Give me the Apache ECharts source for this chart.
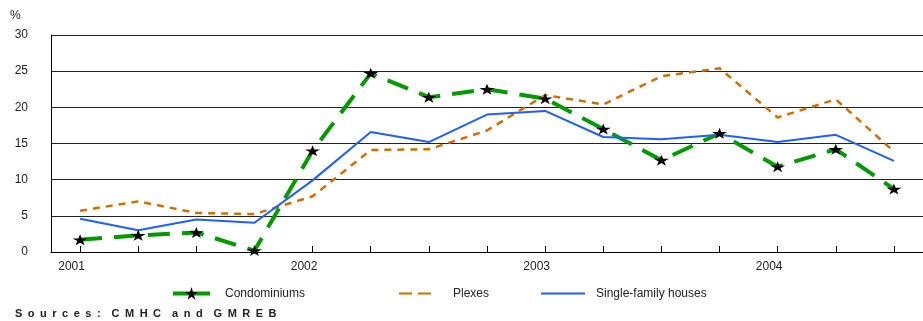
<!DOCTYPE html>
<html><head><meta charset="utf-8">
<script src="https://cdn.jsdelivr.net/npm/echarts@6/dist/echarts.min.js"></script>
<style>html,body{margin:0;padding:0;background:#fff}#c{width:923px;height:321px}</style>
</head><body><div id="c"></div>
<script>
const categories = ['2001','','','','2002','','','','2003','','','','2004','',''];
const condominiums = [1.7, 2.3, 2.7, 0.2, 14.0, 24.7, 21.4, 22.5, 21.2, 17.0, 12.7, 16.4, 11.8, 14.2, 8.7];
const plexes = [5.7, 7.0, 5.4, 5.25, 7.7, 14.1, 14.2, 16.8, 21.7, 20.4, 24.3, 25.4, 18.6, 21.1, 13.9];
const singleFamily = [4.6, 3.0, 4.5, 4.05, 9.9, 16.6, 15.2, 19.0, 19.5, 15.9, 15.6, 16.2, 15.2, 16.2, 12.6];
const yTicks = [0, 5, 10, 15, 20, 25, 30];
const sourceText = 'S\u2002o\u2002u\u2002r\u2002c\u2002e\u2002s\u2002:\u2002\u2002C\u2002M\u2002H\u2002C\u2002\u2002a\u2002n\u2002d\u2002\u2002G\u2002M\u2002R\u2002E\u2002B';

const star = 'path://M50,0 L61,35 L98,35 L68,57 L79,91 L50,70 L21,91 L32,57 L2,35 L39,35 Z';
const font = 'Liberation Sans, Arial, sans-serif';
const chart = echarts.init(document.getElementById('c'));
chart.setOption({
  animation: false,
  textStyle: {fontFamily: font},
  title: [
    {text: '%', left: 5, top: 5, textStyle: {fontSize: 12, fontWeight: 'normal', color: '#222', fontFamily: font}},
    {text: sourceText, left: 10, top: 303, textStyle: {fontSize: 11, fontWeight: 'bold', color: '#222', fontFamily: font, width: 280}}
  ],
  grid: {left: 51, right: -5.5, top: 35, bottom: 69},
  legend: [
    {data: [{name: 'Condominiums'}], left: 171, top: 287, padding: 0, itemWidth: 37, itemHeight: 16,
     lineStyle: {width: 4, type: 'solid', color: '#009900'},
     textStyle: {fontSize: 12, color: '#222', padding: [0, 0, 0, 10]}},
    {data: [{name: 'Plexes', itemStyle: {opacity: 0}}], left: 398, top: 287, padding: 0, itemWidth: 37, itemHeight: 16,
     lineStyle: {type: [13, 6]},
     textStyle: {fontSize: 12, color: '#222', padding: [0, 0, 0, 12]}},
    {data: [{name: 'Single-family houses', itemStyle: {opacity: 0}}], left: 540, top: 287, padding: 0, itemWidth: 44, itemHeight: 16,
     textStyle: {fontSize: 12, color: '#222', padding: [0, 0, 0, 6]}}
  ],
  xAxis: {
    type: 'category', data: categories, boundaryGap: true,
    axisLine: {lineStyle: {color: '#000', width: 1}},
    axisTick: {show: true, inside: true, length: 6, alignWithLabel: true, interval: 0, lineStyle: {color: '#000'}},
    axisLabel: {interval: 0, fontSize: 12, color: '#222', margin: 9, padding: [0, 17, 0, 0]},
    splitLine: {show: false}
  },
  yAxis: {
    type: 'value', min: yTicks[0], max: yTicks[yTicks.length - 1], interval: 5,
    axisLine: {show: true, lineStyle: {color: '#000'}},
    axisTick: {show: false},
    axisLabel: {fontSize: 12, color: '#222', margin: 23},
    splitLine: {lineStyle: {color: '#222', width: 1}}
  },
  series: [
    {name: 'Condominiums', type: 'line', data: condominiums, symbol: star, symbolSize: [15, 11],
     showAllSymbol: true,
     itemStyle: {color: '#000'},
     lineStyle: {color: '#009900', width: 4, type: [22, 12]}},
    {name: 'Plexes', type: 'line', data: plexes, symbol: 'none',
     itemStyle: {color: '#cc7000'},
     lineStyle: {color: '#cc7000', width: 2.5, type: [7, 6]}},
    {name: 'Single-family houses', type: 'line', data: singleFamily, symbol: 'none',
     itemStyle: {color: '#1f5fff'},
     lineStyle: {color: '#1f5fff', width: 2}}
  ]
});
</script></body></html>
